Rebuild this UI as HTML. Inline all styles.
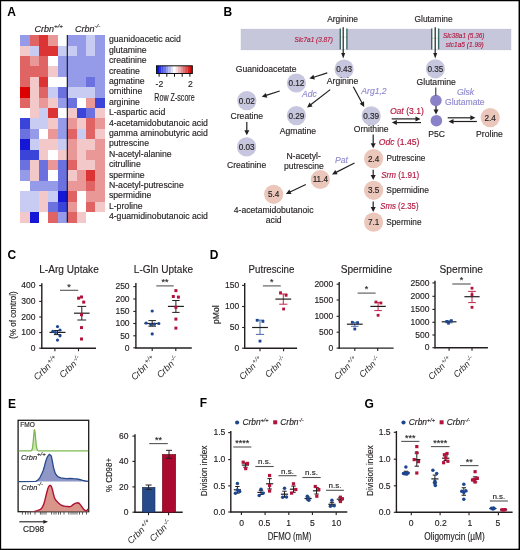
<!DOCTYPE html>
<html><head><meta charset="utf-8"><style>
html,body{margin:0;padding:0;background:#fff;}
body{width:520px;height:550px;overflow:hidden;font-family:"Liberation Sans", sans-serif;}
svg{display:block;}
#wrap{will-change:transform;width:520px;height:550px;background:#fff;}
</style></head><body><div id="wrap">
<svg width="520" height="550" viewBox="0 0 520 550" font-family='"Liberation Sans", sans-serif'>
<rect x="0" y="0" width="520" height="550" fill="#000"/>
<rect x="1.15" y="1.25" width="517.4" height="547.45" fill="#fff"/>
<text x="7.3" y="15.8" font-size="12" text-anchor="start" fill="#000" font-weight="bold">A</text>
<g shape-rendering="crispEdges">
<rect x="20.10" y="35.10" width="9.71" height="10.70" fill="#959be9"/>
<rect x="29.51" y="35.10" width="9.71" height="10.70" fill="#e06464"/>
<rect x="38.92" y="35.10" width="9.71" height="10.70" fill="#dc3434"/>
<rect x="48.33" y="35.10" width="9.71" height="10.70" fill="#e99797"/>
<rect x="57.74" y="35.10" width="9.71" height="10.70" fill="#ffffff"/>
<rect x="67.15" y="35.10" width="9.71" height="10.70" fill="#959be9"/>
<rect x="76.56" y="35.10" width="9.71" height="10.70" fill="#959be9"/>
<rect x="85.97" y="35.10" width="9.71" height="10.70" fill="#c9ccf2"/>
<rect x="95.38" y="35.10" width="9.71" height="10.70" fill="#959be9"/>
<rect x="20.10" y="45.50" width="9.71" height="10.70" fill="#f2c8c8"/>
<rect x="29.51" y="45.50" width="9.71" height="10.70" fill="#c9ccf2"/>
<rect x="38.92" y="45.50" width="9.71" height="10.70" fill="#dc3434"/>
<rect x="48.33" y="45.50" width="9.71" height="10.70" fill="#dc3434"/>
<rect x="57.74" y="45.50" width="9.71" height="10.70" fill="#c9ccf2"/>
<rect x="67.15" y="45.50" width="9.71" height="10.70" fill="#c9ccf2"/>
<rect x="76.56" y="45.50" width="9.71" height="10.70" fill="#959be9"/>
<rect x="85.97" y="45.50" width="9.71" height="10.70" fill="#c9ccf2"/>
<rect x="95.38" y="45.50" width="9.71" height="10.70" fill="#959be9"/>
<rect x="20.10" y="55.90" width="9.71" height="10.70" fill="#e06464"/>
<rect x="29.51" y="55.90" width="9.71" height="10.70" fill="#e99797"/>
<rect x="38.92" y="55.90" width="9.71" height="10.70" fill="#e06464"/>
<rect x="48.33" y="55.90" width="9.71" height="10.70" fill="#ffffff"/>
<rect x="57.74" y="55.90" width="9.71" height="10.70" fill="#959be9"/>
<rect x="67.15" y="55.90" width="9.71" height="10.70" fill="#959be9"/>
<rect x="76.56" y="55.90" width="9.71" height="10.70" fill="#959be9"/>
<rect x="85.97" y="55.90" width="9.71" height="10.70" fill="#959be9"/>
<rect x="95.38" y="55.90" width="9.71" height="10.70" fill="#959be9"/>
<rect x="20.10" y="66.30" width="9.71" height="10.70" fill="#e06464"/>
<rect x="29.51" y="66.30" width="9.71" height="10.70" fill="#e06464"/>
<rect x="38.92" y="66.30" width="9.71" height="10.70" fill="#e06464"/>
<rect x="48.33" y="66.30" width="9.71" height="10.70" fill="#f2c8c8"/>
<rect x="57.74" y="66.30" width="9.71" height="10.70" fill="#959be9"/>
<rect x="67.15" y="66.30" width="9.71" height="10.70" fill="#959be9"/>
<rect x="76.56" y="66.30" width="9.71" height="10.70" fill="#959be9"/>
<rect x="85.97" y="66.30" width="9.71" height="10.70" fill="#959be9"/>
<rect x="95.38" y="66.30" width="9.71" height="10.70" fill="#959be9"/>
<rect x="20.10" y="76.70" width="9.71" height="10.70" fill="#e06464"/>
<rect x="29.51" y="76.70" width="9.71" height="10.70" fill="#f2c8c8"/>
<rect x="38.92" y="76.70" width="9.71" height="10.70" fill="#dc3434"/>
<rect x="48.33" y="76.70" width="9.71" height="10.70" fill="#ffffff"/>
<rect x="57.74" y="76.70" width="9.71" height="10.70" fill="#ffffff"/>
<rect x="67.15" y="76.70" width="9.71" height="10.70" fill="#959be9"/>
<rect x="76.56" y="76.70" width="9.71" height="10.70" fill="#959be9"/>
<rect x="85.97" y="76.70" width="9.71" height="10.70" fill="#6b72e0"/>
<rect x="95.38" y="76.70" width="9.71" height="10.70" fill="#959be9"/>
<rect x="20.10" y="87.10" width="9.71" height="10.70" fill="#dc0000"/>
<rect x="29.51" y="87.10" width="9.71" height="10.70" fill="#f2c8c8"/>
<rect x="38.92" y="87.10" width="9.71" height="10.70" fill="#e06464"/>
<rect x="48.33" y="87.10" width="9.71" height="10.70" fill="#c9ccf2"/>
<rect x="57.74" y="87.10" width="9.71" height="10.70" fill="#6b72e0"/>
<rect x="67.15" y="87.10" width="9.71" height="10.70" fill="#c9ccf2"/>
<rect x="76.56" y="87.10" width="9.71" height="10.70" fill="#c9ccf2"/>
<rect x="85.97" y="87.10" width="9.71" height="10.70" fill="#c9ccf2"/>
<rect x="95.38" y="87.10" width="9.71" height="10.70" fill="#959be9"/>
<rect x="20.10" y="97.50" width="9.71" height="10.70" fill="#e06464"/>
<rect x="29.51" y="97.50" width="9.71" height="10.70" fill="#f2c8c8"/>
<rect x="38.92" y="97.50" width="9.71" height="10.70" fill="#e99797"/>
<rect x="48.33" y="97.50" width="9.71" height="10.70" fill="#f2c8c8"/>
<rect x="57.74" y="97.50" width="9.71" height="10.70" fill="#959be9"/>
<rect x="67.15" y="97.50" width="9.71" height="10.70" fill="#6b72e0"/>
<rect x="76.56" y="97.50" width="9.71" height="10.70" fill="#ffffff"/>
<rect x="85.97" y="97.50" width="9.71" height="10.70" fill="#e99797"/>
<rect x="95.38" y="97.50" width="9.71" height="10.70" fill="#3a44d8"/>
<rect x="20.10" y="107.90" width="9.71" height="10.70" fill="#ffffff"/>
<rect x="29.51" y="107.90" width="9.71" height="10.70" fill="#f2c8c8"/>
<rect x="38.92" y="107.90" width="9.71" height="10.70" fill="#c9ccf2"/>
<rect x="48.33" y="107.90" width="9.71" height="10.70" fill="#dc3434"/>
<rect x="57.74" y="107.90" width="9.71" height="10.70" fill="#ffffff"/>
<rect x="67.15" y="107.90" width="9.71" height="10.70" fill="#f2c8c8"/>
<rect x="76.56" y="107.90" width="9.71" height="10.70" fill="#3a44d8"/>
<rect x="85.97" y="107.90" width="9.71" height="10.70" fill="#6b72e0"/>
<rect x="95.38" y="107.90" width="9.71" height="10.70" fill="#f2c8c8"/>
<rect x="20.10" y="118.30" width="9.71" height="10.70" fill="#3a44d8"/>
<rect x="29.51" y="118.30" width="9.71" height="10.70" fill="#c9ccf2"/>
<rect x="38.92" y="118.30" width="9.71" height="10.70" fill="#c9ccf2"/>
<rect x="48.33" y="118.30" width="9.71" height="10.70" fill="#f2c8c8"/>
<rect x="57.74" y="118.30" width="9.71" height="10.70" fill="#959be9"/>
<rect x="67.15" y="118.30" width="9.71" height="10.70" fill="#e99797"/>
<rect x="76.56" y="118.30" width="9.71" height="10.70" fill="#f2c8c8"/>
<rect x="85.97" y="118.30" width="9.71" height="10.70" fill="#e06464"/>
<rect x="95.38" y="118.30" width="9.71" height="10.70" fill="#e99797"/>
<rect x="20.10" y="128.70" width="9.71" height="10.70" fill="#6b72e0"/>
<rect x="29.51" y="128.70" width="9.71" height="10.70" fill="#959be9"/>
<rect x="38.92" y="128.70" width="9.71" height="10.70" fill="#ffffff"/>
<rect x="48.33" y="128.70" width="9.71" height="10.70" fill="#e99797"/>
<rect x="57.74" y="128.70" width="9.71" height="10.70" fill="#959be9"/>
<rect x="67.15" y="128.70" width="9.71" height="10.70" fill="#e06464"/>
<rect x="76.56" y="128.70" width="9.71" height="10.70" fill="#c9ccf2"/>
<rect x="85.97" y="128.70" width="9.71" height="10.70" fill="#e06464"/>
<rect x="95.38" y="128.70" width="9.71" height="10.70" fill="#f2c8c8"/>
<rect x="20.10" y="139.10" width="9.71" height="10.70" fill="#1616d6"/>
<rect x="29.51" y="139.10" width="9.71" height="10.70" fill="#c9ccf2"/>
<rect x="38.92" y="139.10" width="9.71" height="10.70" fill="#f2c8c8"/>
<rect x="48.33" y="139.10" width="9.71" height="10.70" fill="#f2c8c8"/>
<rect x="57.74" y="139.10" width="9.71" height="10.70" fill="#c9ccf2"/>
<rect x="67.15" y="139.10" width="9.71" height="10.70" fill="#e99797"/>
<rect x="76.56" y="139.10" width="9.71" height="10.70" fill="#f2c8c8"/>
<rect x="85.97" y="139.10" width="9.71" height="10.70" fill="#f2c8c8"/>
<rect x="95.38" y="139.10" width="9.71" height="10.70" fill="#e99797"/>
<rect x="20.10" y="149.50" width="9.71" height="10.70" fill="#3a44d8"/>
<rect x="29.51" y="149.50" width="9.71" height="10.70" fill="#3a44d8"/>
<rect x="38.92" y="149.50" width="9.71" height="10.70" fill="#f2c8c8"/>
<rect x="48.33" y="149.50" width="9.71" height="10.70" fill="#ffffff"/>
<rect x="57.74" y="149.50" width="9.71" height="10.70" fill="#f2c8c8"/>
<rect x="67.15" y="149.50" width="9.71" height="10.70" fill="#e99797"/>
<rect x="76.56" y="149.50" width="9.71" height="10.70" fill="#f2c8c8"/>
<rect x="85.97" y="149.50" width="9.71" height="10.70" fill="#e99797"/>
<rect x="95.38" y="149.50" width="9.71" height="10.70" fill="#e99797"/>
<rect x="20.10" y="159.90" width="9.71" height="10.70" fill="#6b72e0"/>
<rect x="29.51" y="159.90" width="9.71" height="10.70" fill="#f2c8c8"/>
<rect x="38.92" y="159.90" width="9.71" height="10.70" fill="#6b72e0"/>
<rect x="48.33" y="159.90" width="9.71" height="10.70" fill="#e99797"/>
<rect x="57.74" y="159.90" width="9.71" height="10.70" fill="#6b72e0"/>
<rect x="67.15" y="159.90" width="9.71" height="10.70" fill="#e06464"/>
<rect x="76.56" y="159.90" width="9.71" height="10.70" fill="#f2c8c8"/>
<rect x="85.97" y="159.90" width="9.71" height="10.70" fill="#f2c8c8"/>
<rect x="95.38" y="159.90" width="9.71" height="10.70" fill="#e99797"/>
<rect x="20.10" y="170.30" width="9.71" height="10.70" fill="#959be9"/>
<rect x="29.51" y="170.30" width="9.71" height="10.70" fill="#f2c8c8"/>
<rect x="38.92" y="170.30" width="9.71" height="10.70" fill="#6b72e0"/>
<rect x="48.33" y="170.30" width="9.71" height="10.70" fill="#ffffff"/>
<rect x="57.74" y="170.30" width="9.71" height="10.70" fill="#6b72e0"/>
<rect x="67.15" y="170.30" width="9.71" height="10.70" fill="#f2c8c8"/>
<rect x="76.56" y="170.30" width="9.71" height="10.70" fill="#e99797"/>
<rect x="85.97" y="170.30" width="9.71" height="10.70" fill="#dc3434"/>
<rect x="95.38" y="170.30" width="9.71" height="10.70" fill="#e99797"/>
<rect x="20.10" y="180.70" width="9.71" height="10.70" fill="#ffffff"/>
<rect x="29.51" y="180.70" width="9.71" height="10.70" fill="#959be9"/>
<rect x="38.92" y="180.70" width="9.71" height="10.70" fill="#959be9"/>
<rect x="48.33" y="180.70" width="9.71" height="10.70" fill="#959be9"/>
<rect x="57.74" y="180.70" width="9.71" height="10.70" fill="#6b72e0"/>
<rect x="67.15" y="180.70" width="9.71" height="10.70" fill="#e99797"/>
<rect x="76.56" y="180.70" width="9.71" height="10.70" fill="#e99797"/>
<rect x="85.97" y="180.70" width="9.71" height="10.70" fill="#e06464"/>
<rect x="95.38" y="180.70" width="9.71" height="10.70" fill="#e99797"/>
<rect x="20.10" y="191.10" width="9.71" height="10.70" fill="#c9ccf2"/>
<rect x="29.51" y="191.10" width="9.71" height="10.70" fill="#c9ccf2"/>
<rect x="38.92" y="191.10" width="9.71" height="10.70" fill="#f2c8c8"/>
<rect x="48.33" y="191.10" width="9.71" height="10.70" fill="#c9ccf2"/>
<rect x="57.74" y="191.10" width="9.71" height="10.70" fill="#1616d6"/>
<rect x="67.15" y="191.10" width="9.71" height="10.70" fill="#e06464"/>
<rect x="76.56" y="191.10" width="9.71" height="10.70" fill="#ffffff"/>
<rect x="85.97" y="191.10" width="9.71" height="10.70" fill="#e99797"/>
<rect x="95.38" y="191.10" width="9.71" height="10.70" fill="#e99797"/>
<rect x="20.10" y="201.50" width="9.71" height="10.70" fill="#c9ccf2"/>
<rect x="29.51" y="201.50" width="9.71" height="10.70" fill="#c9ccf2"/>
<rect x="38.92" y="201.50" width="9.71" height="10.70" fill="#f2c8c8"/>
<rect x="48.33" y="201.50" width="9.71" height="10.70" fill="#6b72e0"/>
<rect x="57.74" y="201.50" width="9.71" height="10.70" fill="#3a44d8"/>
<rect x="67.15" y="201.50" width="9.71" height="10.70" fill="#e99797"/>
<rect x="76.56" y="201.50" width="9.71" height="10.70" fill="#ffffff"/>
<rect x="85.97" y="201.50" width="9.71" height="10.70" fill="#e06464"/>
<rect x="95.38" y="201.50" width="9.71" height="10.70" fill="#f2c8c8"/>
<rect x="20.10" y="211.90" width="9.71" height="10.70" fill="#f2c8c8"/>
<rect x="29.51" y="211.90" width="9.71" height="10.70" fill="#1616d6"/>
<rect x="38.92" y="211.90" width="9.71" height="10.70" fill="#ffffff"/>
<rect x="48.33" y="211.90" width="9.71" height="10.70" fill="#e06464"/>
<rect x="57.74" y="211.90" width="9.71" height="10.70" fill="#959be9"/>
<rect x="67.15" y="211.90" width="9.71" height="10.70" fill="#e06464"/>
<rect x="76.56" y="211.90" width="9.71" height="10.70" fill="#f2c8c8"/>
<rect x="85.97" y="211.90" width="9.71" height="10.70" fill="#ffffff"/>
<rect x="95.38" y="211.90" width="9.71" height="10.70" fill="#ffffff"/>
</g>
<line x1="67.3" y1="35.1" x2="67.3" y2="222.3" stroke="#111" stroke-width="1.1"/>
<text x="34.5" y="32.2" font-size="9" font-style="italic" fill="#231f20" stroke="#231f20" stroke-width="0.15">Crbn<tspan font-size="6.2" dy="-3.8">+/+</tspan></text>
<text x="74.9" y="32.2" font-size="9" font-style="italic" fill="#231f20" stroke="#231f20" stroke-width="0.15">Crbn<tspan font-size="6.2" dy="-3.8">-/-</tspan></text>
<text x="108.9" y="42.3" font-size="8.7" text-anchor="start" fill="#231f20" stroke="#231f20" stroke-width="0.15">guanidoacetic acid</text>
<text x="108.9" y="52.7" font-size="8.7" text-anchor="start" fill="#231f20" stroke="#231f20" stroke-width="0.15">glutamine</text>
<text x="108.9" y="63.1" font-size="8.7" text-anchor="start" fill="#231f20" stroke="#231f20" stroke-width="0.15">creatinine</text>
<text x="108.9" y="73.5" font-size="8.7" text-anchor="start" fill="#231f20" stroke="#231f20" stroke-width="0.15">creatine</text>
<text x="108.9" y="83.9" font-size="8.7" text-anchor="start" fill="#231f20" stroke="#231f20" stroke-width="0.15">agmatine</text>
<text x="108.9" y="94.3" font-size="8.7" text-anchor="start" fill="#231f20" stroke="#231f20" stroke-width="0.15">ornithine</text>
<text x="108.9" y="104.7" font-size="8.7" text-anchor="start" fill="#231f20" stroke="#231f20" stroke-width="0.15">arginine</text>
<text x="108.9" y="115.1" font-size="8.7" text-anchor="start" fill="#231f20" stroke="#231f20" stroke-width="0.15">L-aspartic acid</text>
<text x="108.9" y="125.5" font-size="8.7" text-anchor="start" fill="#231f20" stroke="#231f20" stroke-width="0.15">4-acetamidobutanoic acid</text>
<text x="108.9" y="135.9" font-size="8.7" text-anchor="start" fill="#231f20" stroke="#231f20" stroke-width="0.15">gamma aminobutyric acid</text>
<text x="108.9" y="146.3" font-size="8.7" text-anchor="start" fill="#231f20" stroke="#231f20" stroke-width="0.15">putrescine</text>
<text x="108.9" y="156.7" font-size="8.7" text-anchor="start" fill="#231f20" stroke="#231f20" stroke-width="0.15">N-acetyl-alanine</text>
<text x="108.9" y="167.1" font-size="8.7" text-anchor="start" fill="#231f20" stroke="#231f20" stroke-width="0.15">citrulline</text>
<text x="108.9" y="177.5" font-size="8.7" text-anchor="start" fill="#231f20" stroke="#231f20" stroke-width="0.15">spermine</text>
<text x="108.9" y="187.9" font-size="8.7" text-anchor="start" fill="#231f20" stroke="#231f20" stroke-width="0.15">N-acetyl-putrescine</text>
<text x="108.9" y="198.3" font-size="8.7" text-anchor="start" fill="#231f20" stroke="#231f20" stroke-width="0.15">spermidine</text>
<text x="108.9" y="208.7" font-size="8.7" text-anchor="start" fill="#231f20" stroke="#231f20" stroke-width="0.15">L-proline</text>
<text x="108.9" y="219.1" font-size="8.7" text-anchor="start" fill="#231f20" stroke="#231f20" stroke-width="0.15">4-guamidinobutanoic acid</text>
<rect x="156.50" y="65.8" width="2.59" height="7.700000000000003" fill="#0a14d8"/>
<rect x="158.89" y="65.8" width="2.59" height="7.700000000000003" fill="#2a36dc"/>
<rect x="161.27" y="65.8" width="2.59" height="7.700000000000003" fill="#4a56e0"/>
<rect x="163.66" y="65.8" width="2.59" height="7.700000000000003" fill="#6d78e6"/>
<rect x="166.05" y="65.8" width="2.59" height="7.700000000000003" fill="#9199ec"/>
<rect x="168.43" y="65.8" width="2.59" height="7.700000000000003" fill="#b7bcf2"/>
<rect x="170.82" y="65.8" width="2.59" height="7.700000000000003" fill="#dcdff8"/>
<rect x="173.21" y="65.8" width="2.59" height="7.700000000000003" fill="#ffffff"/>
<rect x="175.59" y="65.8" width="2.59" height="7.700000000000003" fill="#f8dcdc"/>
<rect x="177.98" y="65.8" width="2.59" height="7.700000000000003" fill="#f0b8b8"/>
<rect x="180.37" y="65.8" width="2.59" height="7.700000000000003" fill="#e89494"/>
<rect x="182.75" y="65.8" width="2.59" height="7.700000000000003" fill="#e06f6f"/>
<rect x="185.14" y="65.8" width="2.59" height="7.700000000000003" fill="#d84a4a"/>
<rect x="187.53" y="65.8" width="2.59" height="7.700000000000003" fill="#d42626"/>
<rect x="189.91" y="65.8" width="2.59" height="7.700000000000003" fill="#d20606"/>
<rect x="156.5" y="65.8" width="35.80000000000001" height="7.700000000000003" fill="none" stroke="#111" stroke-width="1"/>
<line x1="159.1" y1="73.5" x2="159.1" y2="76.7" stroke="#111" stroke-width="1"/>
<line x1="166.8" y1="73.5" x2="166.8" y2="76.7" stroke="#111" stroke-width="1"/>
<line x1="174.5" y1="73.5" x2="174.5" y2="76.7" stroke="#111" stroke-width="1"/>
<line x1="182.2" y1="73.5" x2="182.2" y2="76.7" stroke="#111" stroke-width="1"/>
<line x1="189.9" y1="73.5" x2="189.9" y2="76.7" stroke="#111" stroke-width="1"/>
<text x="155.6" y="86.9" font-size="8.6" text-anchor="start" fill="#231f20" stroke="#231f20" stroke-width="0.15">-2</text>
<text x="187.9" y="86.9" font-size="8.6" text-anchor="start" fill="#231f20" stroke="#231f20" stroke-width="0.15">2</text>
<text x="154.3" y="100.7" font-size="10.2" text-anchor="start" fill="#231f20" textLength="40.4" lengthAdjust="spacingAndGlyphs" stroke="#231f20" stroke-width="0.15">Row Z-score</text>
<text x="223.5" y="15.9" font-size="12" text-anchor="start" fill="#000" font-weight="bold">B</text>
<rect x="241.2" y="29.3" width="269.6" height="20.4" fill="#c6c7da" stroke="#bdbed3" stroke-width="0.8"/>
<rect x="340.3" y="28.6" width="6.599999999999966" height="20.8" fill="#fff"/>
<line x1="340.3" y1="37.2" x2="346.9" y2="37.2" stroke="#b8d89a" stroke-width="0.6"/>
<line x1="340.3" y1="28.4" x2="340.3" y2="49.4" stroke="#3a6b68" stroke-width="1.4"/>
<line x1="346.9" y1="28.4" x2="346.9" y2="49.4" stroke="#3a6b68" stroke-width="1.4"/>
<rect x="431.7" y="28.6" width="6.900000000000034" height="20.8" fill="#fff"/>
<line x1="431.7" y1="38.2" x2="438.6" y2="38.2" stroke="#b8d89a" stroke-width="0.6"/>
<line x1="431.7" y1="28.4" x2="431.7" y2="49.4" stroke="#3a6b68" stroke-width="1.4"/>
<line x1="438.6" y1="28.4" x2="438.6" y2="49.4" stroke="#3a6b68" stroke-width="1.4"/>
<text x="342.6" y="21.6" font-size="8.4" text-anchor="middle" fill="#231f20" stroke="#231f20" stroke-width="0.15">Arginine</text>
<text x="433.6" y="22.2" font-size="8.4" text-anchor="middle" fill="#231f20" stroke="#231f20" stroke-width="0.15">Glutamine</text>
<line x1="343.2" y1="27.2" x2="343.20" y2="53.50" stroke="#231f20" stroke-width="1.2"/>
<polygon points="343.20,58.60 341.20,53.00 345.20,53.00" fill="#231f20"/>
<line x1="435.2" y1="27.2" x2="435.20" y2="53.50" stroke="#231f20" stroke-width="1.2"/>
<polygon points="435.20,58.60 433.20,53.00 437.20,53.00" fill="#231f20"/>
<text x="294.6" y="42" font-size="7.8" font-style="italic" fill="#b3163e" textLength="38.2" lengthAdjust="spacingAndGlyphs" stroke="#b3163e" stroke-width="0.15">Slc7a1 (3.87)</text>
<text x="442.9" y="37.9" font-size="7.8" font-style="italic" fill="#b3163e" textLength="41.5" lengthAdjust="spacingAndGlyphs" stroke="#b3163e" stroke-width="0.15">Slc38a1 (5.36)</text>
<text x="445.8" y="46.5" font-size="7.8" font-style="italic" fill="#b3163e" textLength="38" lengthAdjust="spacingAndGlyphs" stroke="#b3163e" stroke-width="0.15">stc1a5 (1.99)</text>
<circle cx="344.1" cy="69" r="9.6" fill="#c6c7de"/>
<text x="344.1" y="71.9" font-size="8.2" text-anchor="middle" fill="#231f20" stroke="#231f20" stroke-width="0.15">0.43</text>
<circle cx="296.4" cy="83" r="9.6" fill="#c6c7de"/>
<text x="296.4" y="85.9" font-size="8.2" text-anchor="middle" fill="#231f20" stroke="#231f20" stroke-width="0.15">0.12</text>
<circle cx="246.8" cy="100.6" r="9.6" fill="#c6c7de"/>
<text x="246.8" y="103.5" font-size="8.2" text-anchor="middle" fill="#231f20" stroke="#231f20" stroke-width="0.15">0.02</text>
<circle cx="296.4" cy="115.6" r="9.6" fill="#c6c7de"/>
<text x="296.4" y="118.5" font-size="8.2" text-anchor="middle" fill="#231f20" stroke="#231f20" stroke-width="0.15">0.29</text>
<circle cx="246.6" cy="146.9" r="9.6" fill="#c6c7de"/>
<text x="246.6" y="149.8" font-size="8.2" text-anchor="middle" fill="#231f20" stroke="#231f20" stroke-width="0.15">0.03</text>
<circle cx="371.2" cy="115.9" r="9.6" fill="#c6c7de"/>
<text x="371.2" y="118.80000000000001" font-size="8.2" text-anchor="middle" fill="#231f20" stroke="#231f20" stroke-width="0.15">0.39</text>
<circle cx="435.4" cy="68.8" r="9.6" fill="#c6c7de"/>
<text x="435.4" y="71.7" font-size="8.2" text-anchor="middle" fill="#231f20" stroke="#231f20" stroke-width="0.15">0.35</text>
<circle cx="490.2" cy="117.6" r="9.6" fill="#ebc7bb"/>
<text x="490.2" y="120.5" font-size="8.2" text-anchor="middle" fill="#231f20" stroke="#231f20" stroke-width="0.15">2.4</text>
<circle cx="373.6" cy="158.6" r="9.6" fill="#ebc7bb"/>
<text x="373.6" y="161.5" font-size="8.2" text-anchor="middle" fill="#231f20" stroke="#231f20" stroke-width="0.15">2.4</text>
<circle cx="320.3" cy="179.5" r="9.6" fill="#ebc7bb"/>
<text x="320.3" y="182.4" font-size="8.2" text-anchor="middle" fill="#231f20" stroke="#231f20" stroke-width="0.15">11.4</text>
<circle cx="273.7" cy="194.3" r="9.6" fill="#ebc7bb"/>
<text x="273.7" y="197.20000000000002" font-size="8.2" text-anchor="middle" fill="#231f20" stroke="#231f20" stroke-width="0.15">5.4</text>
<circle cx="373.6" cy="190.3" r="9.6" fill="#ebc7bb"/>
<text x="373.6" y="193.20000000000002" font-size="8.2" text-anchor="middle" fill="#231f20" stroke="#231f20" stroke-width="0.15">3.5</text>
<circle cx="373.6" cy="222.1" r="9.6" fill="#ebc7bb"/>
<text x="373.6" y="225.0" font-size="8.2" text-anchor="middle" fill="#231f20" stroke="#231f20" stroke-width="0.15">7.1</text>
<circle cx="435.9" cy="100.5" r="5.8" fill="#8a82c8"/>
<circle cx="436.4" cy="120.7" r="5.8" fill="#8a82c8"/>
<text x="266.2" y="72.2" font-size="8.6" text-anchor="middle" fill="#231f20" stroke="#231f20" stroke-width="0.15">Guanidoacetate</text>
<text x="342.6" y="83.5" font-size="8.6" text-anchor="middle" fill="#231f20" stroke="#231f20" stroke-width="0.15">Arginine</text>
<text x="302" y="97.2" font-size="8.6" text-anchor="start" fill="#8f8ad0" font-style="italic" stroke="#8f8ad0" stroke-width="0.15">Adc</text>
<text x="246.8" y="118.6" font-size="8.6" text-anchor="middle" fill="#231f20" stroke="#231f20" stroke-width="0.15">Creatine</text>
<text x="297.9" y="134.2" font-size="8.6" text-anchor="middle" fill="#231f20" stroke="#231f20" stroke-width="0.15">Agmatine</text>
<text x="246.6" y="167.6" font-size="8.6" text-anchor="middle" fill="#231f20" stroke="#231f20" stroke-width="0.15">Creatinine</text>
<text x="371.2" y="131.6" font-size="8.6" text-anchor="middle" fill="#231f20" stroke="#231f20" stroke-width="0.15">Ornithine</text>
<text x="361.3" y="94" font-size="8.6" text-anchor="start" fill="#8f8ad0" font-style="italic" stroke="#8f8ad0" stroke-width="0.15">Arg1,2</text>
<text x="389.9" y="113.8" font-size="8.6" fill="#b3163e" stroke="#b3163e" stroke-width="0.15"><tspan font-style="italic">Oat</tspan> (3.1)</text>
<text x="436.2" y="84.6" font-size="8.6" text-anchor="middle" fill="#231f20" stroke="#231f20" stroke-width="0.15">Glutamine</text>
<text x="456.9" y="94.5" font-size="8.6" text-anchor="start" fill="#8f8ad0" font-style="italic" stroke="#8f8ad0" stroke-width="0.15">Glsk</text>
<text x="445" y="104.7" font-size="8.6" text-anchor="start" fill="#8f8ad0" stroke="#8f8ad0" stroke-width="0.15">Glutamate</text>
<text x="436.6" y="137" font-size="8.6" text-anchor="middle" fill="#231f20" stroke="#231f20" stroke-width="0.15">P5C</text>
<text x="489.5" y="137" font-size="8.6" text-anchor="middle" fill="#231f20" stroke="#231f20" stroke-width="0.15">Proline</text>
<text x="378.8" y="144.5" font-size="8.6" fill="#b3163e" stroke="#b3163e" stroke-width="0.15"><tspan font-style="italic">Odc</tspan> (1.45)</text>
<text x="386.5" y="161.2" font-size="8.6" text-anchor="start" fill="#231f20" textLength="38.9" lengthAdjust="spacingAndGlyphs" stroke="#231f20" stroke-width="0.15">Putrescine</text>
<text x="335" y="162.5" font-size="8.6" text-anchor="start" fill="#8f8ad0" font-style="italic" stroke="#8f8ad0" stroke-width="0.15">Pat</text>
<text x="303.6" y="158.8" font-size="8.6" text-anchor="middle" fill="#231f20" stroke="#231f20" stroke-width="0.15">N-acetyl-</text>
<text x="303.9" y="169.4" font-size="8.6" text-anchor="middle" fill="#231f20" stroke="#231f20" stroke-width="0.15">putrescine</text>
<text x="273.7" y="212.5" font-size="8.6" text-anchor="middle" fill="#231f20" stroke="#231f20" stroke-width="0.15">4-acetamidobutanoic</text>
<text x="273.7" y="223" font-size="8.6" text-anchor="middle" fill="#231f20" stroke="#231f20" stroke-width="0.15">acid</text>
<text x="381.2" y="177.6" font-size="8.6" fill="#b3163e" textLength="38" lengthAdjust="spacingAndGlyphs" stroke="#b3163e" stroke-width="0.15"><tspan font-style="italic">Srm</tspan> (1.91)</text>
<text x="386.3" y="192.5" font-size="8.6" text-anchor="start" fill="#231f20" textLength="42.6" lengthAdjust="spacingAndGlyphs" stroke="#231f20" stroke-width="0.15">Spermidine</text>
<text x="380.2" y="209.3" font-size="8.6" fill="#b3163e" textLength="38.3" lengthAdjust="spacingAndGlyphs" stroke="#b3163e" stroke-width="0.15"><tspan font-style="italic">Sms</tspan> (2.35)</text>
<text x="386.3" y="224.5" font-size="8.6" text-anchor="start" fill="#231f20" textLength="35.2" lengthAdjust="spacingAndGlyphs" stroke="#231f20" stroke-width="0.15">Spermine</text>
<line x1="327.3" y1="72.9" x2="313.69" y2="77.23" stroke="#231f20" stroke-width="1.2"/>
<polygon points="309.40,78.60 313.41,74.70 314.92,79.47" fill="#231f20"/>
<line x1="279.7" y1="91" x2="266.08" y2="95.41" stroke="#231f20" stroke-width="1.2"/>
<polygon points="261.80,96.80 265.79,92.88 267.33,97.64" fill="#231f20"/>
<line x1="246.8" y1="121.9" x2="246.80" y2="130.70" stroke="#231f20" stroke-width="1.2"/>
<polygon points="246.80,135.20 244.30,130.20 249.30,130.20" fill="#231f20"/>
<line x1="330.2" y1="89.6" x2="310.66" y2="104.74" stroke="#231f20" stroke-width="1.2"/>
<polygon points="307.10,107.50 309.52,102.46 312.58,106.41" fill="#231f20"/>
<line x1="353.3" y1="86.7" x2="362.06" y2="102.94" stroke="#231f20" stroke-width="1.2"/>
<polygon points="364.20,106.90 359.63,103.69 364.03,101.31" fill="#231f20"/>
<line x1="435.8" y1="87.5" x2="435.8" y2="95.5" stroke="#231f20" stroke-width="1"/>
<line x1="436" y1="106" x2="436.00" y2="110.10" stroke="#231f20" stroke-width="1.2"/>
<polygon points="436.00,114.60 433.50,109.60 438.50,109.60" fill="#231f20"/>
<line x1="391.7" y1="118.9" x2="416.00" y2="118.90" stroke="#231f20" stroke-width="1.2"/>
<polygon points="420.50,118.90 415.50,121.40 415.50,116.40" fill="#231f20"/>
<line x1="421" y1="122.6" x2="396.40" y2="122.60" stroke="#231f20" stroke-width="1.2"/>
<polygon points="391.90,122.60 396.90,120.10 396.90,125.10" fill="#231f20"/>
<line x1="447.7" y1="117.8" x2="470.90" y2="117.80" stroke="#231f20" stroke-width="1.2"/>
<polygon points="475.40,117.80 470.40,120.30 470.40,115.30" fill="#231f20"/>
<line x1="476.9" y1="121.5" x2="453.00" y2="121.50" stroke="#231f20" stroke-width="1.2"/>
<polygon points="448.50,121.50 453.50,119.00 453.50,124.00" fill="#231f20"/>
<line x1="373.2" y1="134.5" x2="373.20" y2="143.80" stroke="#231f20" stroke-width="1.2"/>
<polygon points="373.20,148.30 370.70,143.30 375.70,143.30" fill="#231f20"/>
<line x1="354.5" y1="163" x2="336.01" y2="172.37" stroke="#231f20" stroke-width="1.2"/>
<polygon points="332.00,174.40 335.33,169.91 337.59,174.37" fill="#231f20"/>
<line x1="305.8" y1="184.5" x2="289.96" y2="192.06" stroke="#231f20" stroke-width="1.2"/>
<polygon points="285.90,194.00 289.34,189.59 291.49,194.10" fill="#231f20"/>
<line x1="373.2" y1="169.8" x2="373.20" y2="175.50" stroke="#231f20" stroke-width="1.2"/>
<polygon points="373.20,180.00 370.70,175.00 375.70,175.00" fill="#231f20"/>
<line x1="373.2" y1="201.5" x2="373.20" y2="207.50" stroke="#231f20" stroke-width="1.2"/>
<polygon points="373.20,212.00 370.70,207.00 375.70,207.00" fill="#231f20"/>
<text x="7.5" y="258.5" font-size="12" text-anchor="start" fill="#000" font-weight="bold">C</text>
<text x="39.2" y="273.3" font-size="10.6" text-anchor="start" fill="#231f20" textLength="59.6" lengthAdjust="spacingAndGlyphs" stroke="#231f20" stroke-width="0.15">L-Arg Uptake</text>
<line x1="41.8" y1="283.3" x2="41.8" y2="348.8" stroke="#231f20" stroke-width="1.4"/>
<line x1="39.199999999999996" y1="285.6" x2="41.8" y2="285.6" stroke="#231f20" stroke-width="1.1"/>
<text x="35.5" y="288.3" font-size="8.5" text-anchor="end" fill="#231f20" stroke="#231f20" stroke-width="0.15">400</text>
<line x1="39.199999999999996" y1="301.4" x2="41.8" y2="301.4" stroke="#231f20" stroke-width="1.1"/>
<text x="35.5" y="304.09999999999997" font-size="8.5" text-anchor="end" fill="#231f20" stroke="#231f20" stroke-width="0.15">300</text>
<line x1="39.199999999999996" y1="317" x2="41.8" y2="317" stroke="#231f20" stroke-width="1.1"/>
<text x="35.5" y="319.7" font-size="8.5" text-anchor="end" fill="#231f20" stroke="#231f20" stroke-width="0.15">200</text>
<line x1="39.199999999999996" y1="332.6" x2="41.8" y2="332.6" stroke="#231f20" stroke-width="1.1"/>
<text x="35.5" y="335.3" font-size="8.5" text-anchor="end" fill="#231f20" stroke="#231f20" stroke-width="0.15">100</text>
<line x1="39.199999999999996" y1="348.2" x2="41.8" y2="348.2" stroke="#231f20" stroke-width="1.1"/>
<text x="35.5" y="350.9" font-size="8.5" text-anchor="end" fill="#231f20" stroke="#231f20" stroke-width="0.15">0</text>
<line x1="41.199999999999996" y1="348.2" x2="96" y2="348.2" stroke="#231f20" stroke-width="1.4"/>
<line x1="54.9" y1="348.2" x2="54.9" y2="351.2" stroke="#231f20" stroke-width="1.1"/>
<line x1="78.5" y1="348.2" x2="78.5" y2="351.2" stroke="#231f20" stroke-width="1.1"/>
<text transform="translate(15.8,315) rotate(-90)" font-size="8.8" text-anchor="middle" fill="#231f20" textLength="47.3" lengthAdjust="spacingAndGlyphs" stroke="#231f20" stroke-width="0.15">(% of control)</text>
<line x1="60" y1="290.3" x2="78.2" y2="290.3" stroke="#555" stroke-width="1.1"/>
<text x="69.1" y="289.5" font-size="9" text-anchor="middle" fill="#231f20" stroke="#231f20" stroke-width="0.15">*</text>
<line x1="57.5" y1="330.5" x2="57.5" y2="334.6" stroke="#231f20" stroke-width="1"/>
<line x1="53.8" y1="330.5" x2="61.2" y2="330.5" stroke="#231f20" stroke-width="1"/>
<line x1="53.8" y1="334.6" x2="61.2" y2="334.6" stroke="#231f20" stroke-width="1"/>
<line x1="49.5" y1="332.4" x2="65.5" y2="332.4" stroke="#231f20" stroke-width="1.2"/>
<circle cx="57.5" cy="326.6" r="1.6" fill="#1d4691"/>
<circle cx="52.8" cy="331.3" r="1.6" fill="#1d4691"/>
<circle cx="60" cy="330" r="1.6" fill="#1d4691"/>
<circle cx="60" cy="335.8" r="1.6" fill="#1d4691"/>
<circle cx="57.5" cy="340.1" r="1.6" fill="#1d4691"/>
<circle cx="55.5" cy="332.5" r="1.6" fill="#1d4691"/>
<line x1="81.8" y1="306.4" x2="81.8" y2="320" stroke="#231f20" stroke-width="1"/>
<line x1="77.39999999999999" y1="306.4" x2="86.2" y2="306.4" stroke="#231f20" stroke-width="1"/>
<line x1="77.39999999999999" y1="320" x2="86.2" y2="320" stroke="#231f20" stroke-width="1"/>
<line x1="74.0" y1="313.2" x2="89.6" y2="313.2" stroke="#231f20" stroke-width="1.2"/>
<rect x="77.10" y="296.70" width="3.00" height="3.00" fill="#b3123b"/>
<rect x="80.00" y="295.50" width="3.00" height="3.00" fill="#b3123b"/>
<rect x="82.20" y="300.60" width="3.00" height="3.00" fill="#b3123b"/>
<rect x="80.00" y="313.20" width="3.00" height="3.00" fill="#b3123b"/>
<rect x="80.00" y="326.10" width="3.00" height="3.00" fill="#b3123b"/>
<rect x="80.00" y="337.50" width="3.00" height="3.00" fill="#b3123b"/>
<text transform="translate(58.4,359.8) rotate(-45)" font-size="9.2" font-style="italic" text-anchor="end" fill="#231f20">Crbn<tspan font-size="6.4" dx="0.6" dy="-3.3">+/+</tspan></text>
<text transform="translate(81.8,359.8) rotate(-45)" font-size="9.2" font-style="italic" text-anchor="end" fill="#231f20">Crbn<tspan font-size="6.4" dx="0.6" dy="-3.3">-/-</tspan></text>
<text x="133.8" y="273.4" font-size="10.6" text-anchor="start" fill="#231f20" textLength="59.3" lengthAdjust="spacingAndGlyphs" stroke="#231f20" stroke-width="0.15">L-Gln Uptake</text>
<line x1="135.9" y1="283" x2="135.9" y2="348.40000000000003" stroke="#231f20" stroke-width="1.4"/>
<line x1="133.3" y1="286.6" x2="135.9" y2="286.6" stroke="#231f20" stroke-width="1.1"/>
<text x="129.6" y="289.3" font-size="8.5" text-anchor="end" fill="#231f20" stroke="#231f20" stroke-width="0.15">250</text>
<line x1="133.3" y1="299" x2="135.9" y2="299" stroke="#231f20" stroke-width="1.1"/>
<text x="129.6" y="301.7" font-size="8.5" text-anchor="end" fill="#231f20" stroke="#231f20" stroke-width="0.15">200</text>
<line x1="133.3" y1="311.4" x2="135.9" y2="311.4" stroke="#231f20" stroke-width="1.1"/>
<text x="129.6" y="314.09999999999997" font-size="8.5" text-anchor="end" fill="#231f20" stroke="#231f20" stroke-width="0.15">150</text>
<line x1="133.3" y1="323.5" x2="135.9" y2="323.5" stroke="#231f20" stroke-width="1.1"/>
<text x="129.6" y="326.2" font-size="8.5" text-anchor="end" fill="#231f20" stroke="#231f20" stroke-width="0.15">100</text>
<line x1="133.3" y1="335.8" x2="135.9" y2="335.8" stroke="#231f20" stroke-width="1.1"/>
<text x="129.6" y="338.5" font-size="8.5" text-anchor="end" fill="#231f20" stroke="#231f20" stroke-width="0.15">50</text>
<line x1="133.3" y1="347.8" x2="135.9" y2="347.8" stroke="#231f20" stroke-width="1.1"/>
<text x="129.6" y="350.5" font-size="8.5" text-anchor="end" fill="#231f20" stroke="#231f20" stroke-width="0.15">0</text>
<line x1="135.3" y1="348" x2="191.8" y2="348" stroke="#231f20" stroke-width="1.4"/>
<line x1="152.2" y1="348" x2="152.2" y2="351" stroke="#231f20" stroke-width="1.1"/>
<line x1="175.8" y1="348" x2="175.8" y2="351" stroke="#231f20" stroke-width="1.1"/>
<line x1="156.3" y1="285.9" x2="173.7" y2="285.9" stroke="#555" stroke-width="1.1"/>
<text x="165.0" y="285.09999999999997" font-size="9" text-anchor="middle" fill="#231f20" stroke="#231f20" stroke-width="0.15">**</text>
<line x1="152.2" y1="320.6" x2="152.2" y2="326.2" stroke="#231f20" stroke-width="1"/>
<line x1="148.39999999999998" y1="320.6" x2="156.0" y2="320.6" stroke="#231f20" stroke-width="1"/>
<line x1="148.39999999999998" y1="326.2" x2="156.0" y2="326.2" stroke="#231f20" stroke-width="1"/>
<line x1="144.39999999999998" y1="323.5" x2="160.0" y2="323.5" stroke="#231f20" stroke-width="1.2"/>
<circle cx="152.2" cy="311" r="1.6" fill="#1d4691"/>
<circle cx="146.1" cy="323" r="1.6" fill="#1d4691"/>
<circle cx="150.8" cy="324.5" r="1.6" fill="#1d4691"/>
<circle cx="154.4" cy="324.2" r="1.6" fill="#1d4691"/>
<circle cx="158.8" cy="323.5" r="1.6" fill="#1d4691"/>
<circle cx="152.2" cy="333.9" r="1.6" fill="#1d4691"/>
<line x1="175.9" y1="300.5" x2="175.9" y2="312.4" stroke="#231f20" stroke-width="1"/>
<line x1="172.20000000000002" y1="300.5" x2="179.6" y2="300.5" stroke="#231f20" stroke-width="1"/>
<line x1="172.20000000000002" y1="312.4" x2="179.6" y2="312.4" stroke="#231f20" stroke-width="1"/>
<line x1="167.9" y1="306.4" x2="183.9" y2="306.4" stroke="#231f20" stroke-width="1.2"/>
<rect x="174.40" y="289.10" width="3.00" height="3.00" fill="#b3123b"/>
<rect x="171.80" y="295.00" width="3.00" height="3.00" fill="#b3123b"/>
<rect x="176.90" y="295.60" width="3.00" height="3.00" fill="#b3123b"/>
<rect x="174.40" y="305.80" width="3.00" height="3.00" fill="#b3123b"/>
<rect x="174.40" y="317.60" width="3.00" height="3.00" fill="#b3123b"/>
<rect x="174.40" y="326.60" width="3.00" height="3.00" fill="#b3123b"/>
<text transform="translate(155.7,359.8) rotate(-45)" font-size="9.2" font-style="italic" text-anchor="end" fill="#231f20">Crbn<tspan font-size="6.4" dx="0.6" dy="-3.3">+/+</tspan></text>
<text transform="translate(179.2,359.8) rotate(-45)" font-size="9.2" font-style="italic" text-anchor="end" fill="#231f20">Crbn<tspan font-size="6.4" dx="0.6" dy="-3.3">-/-</tspan></text>
<text x="209.8" y="258.5" font-size="12" text-anchor="start" fill="#000" font-weight="bold">D</text>
<text x="271.5" y="273.3" font-size="10.6" text-anchor="middle" fill="#231f20" textLength="45.8" lengthAdjust="spacingAndGlyphs" stroke="#231f20" stroke-width="0.15">Putrescine</text>
<line x1="244.7" y1="283" x2="244.7" y2="348.8" stroke="#231f20" stroke-width="1.4"/>
<line x1="242.1" y1="285.4" x2="244.7" y2="285.4" stroke="#231f20" stroke-width="1.1"/>
<text x="239.3" y="288.09999999999997" font-size="8.5" text-anchor="end" fill="#231f20" stroke="#231f20" stroke-width="0.15">150</text>
<line x1="242.1" y1="306.5" x2="244.7" y2="306.5" stroke="#231f20" stroke-width="1.1"/>
<text x="239.3" y="309.2" font-size="8.5" text-anchor="end" fill="#231f20" stroke="#231f20" stroke-width="0.15">100</text>
<line x1="242.1" y1="327.5" x2="244.7" y2="327.5" stroke="#231f20" stroke-width="1.1"/>
<text x="239.3" y="330.2" font-size="8.5" text-anchor="end" fill="#231f20" stroke="#231f20" stroke-width="0.15">50</text>
<line x1="242.1" y1="348.2" x2="244.7" y2="348.2" stroke="#231f20" stroke-width="1.1"/>
<text x="239.3" y="350.9" font-size="8.5" text-anchor="end" fill="#231f20" stroke="#231f20" stroke-width="0.15">0</text>
<line x1="244.1" y1="348.2" x2="297.1" y2="348.2" stroke="#231f20" stroke-width="1.4"/>
<line x1="260" y1="348.2" x2="260" y2="351.2" stroke="#231f20" stroke-width="1.1"/>
<line x1="283.6" y1="348.2" x2="283.6" y2="351.2" stroke="#231f20" stroke-width="1.1"/>
<text transform="translate(219.2,314.7) rotate(-90)" font-size="8.6" text-anchor="middle" fill="#231f20" stroke="#231f20" stroke-width="0.15">pMol</text>
<line x1="262.9" y1="285.9" x2="280.8" y2="285.9" stroke="#555" stroke-width="1.1"/>
<text x="271.85" y="285.09999999999997" font-size="9" text-anchor="middle" fill="#231f20" stroke="#231f20" stroke-width="0.15">*</text>
<line x1="260" y1="320.1" x2="260" y2="334.4" stroke="#4a6aa6" stroke-width="1"/>
<line x1="255.9" y1="320.1" x2="264.1" y2="320.1" stroke="#4a6aa6" stroke-width="1"/>
<line x1="255.9" y1="334.4" x2="264.1" y2="334.4" stroke="#4a6aa6" stroke-width="1"/>
<line x1="252.1" y1="327.5" x2="267.9" y2="327.5" stroke="#231f20" stroke-width="1.2"/>
<rect x="255.80" y="318.90" width="2.80" height="2.80" fill="#1d4691"/>
<rect x="261.50" y="320.00" width="2.80" height="2.80" fill="#1d4691"/>
<rect x="258.60" y="339.70" width="2.80" height="2.80" fill="#1d4691"/>
<line x1="283.3" y1="294" x2="283.3" y2="304.2" stroke="#c0254a" stroke-width="1"/>
<line x1="279.2" y1="294" x2="287.40000000000003" y2="294" stroke="#c0254a" stroke-width="1"/>
<line x1="279.2" y1="304.2" x2="287.40000000000003" y2="304.2" stroke="#c0254a" stroke-width="1"/>
<line x1="275.40000000000003" y1="299.1" x2="291.2" y2="299.1" stroke="#231f20" stroke-width="1.2"/>
<rect x="279.10" y="291.30" width="2.80" height="2.80" fill="#b3123b"/>
<rect x="284.70" y="293.90" width="2.80" height="2.80" fill="#b3123b"/>
<rect x="282.20" y="307.60" width="2.80" height="2.80" fill="#b3123b"/>
<text transform="translate(263.0,360.0) rotate(-45)" font-size="8.8" font-style="italic" text-anchor="end" fill="#231f20">Crbn<tspan font-size="6.2" dx="0.6" dy="-3.3">+/+</tspan></text>
<text transform="translate(286.5,360.0) rotate(-45)" font-size="8.8" font-style="italic" text-anchor="end" fill="#231f20">Crbn<tspan font-size="6.2" dx="0.6" dy="-3.3">-/-</tspan></text>
<text x="366.4" y="273.1" font-size="10.6" text-anchor="middle" fill="#231f20" textLength="51.4" lengthAdjust="spacingAndGlyphs" stroke="#231f20" stroke-width="0.15">Spermidine</text>
<line x1="339.2" y1="282" x2="339.2" y2="348.70000000000005" stroke="#231f20" stroke-width="1.4"/>
<line x1="336.59999999999997" y1="284.2" x2="339.2" y2="284.2" stroke="#231f20" stroke-width="1.1"/>
<text x="333.3" y="286.9" font-size="8.5" text-anchor="end" fill="#231f20" stroke="#231f20" stroke-width="0.15">2000</text>
<line x1="336.59999999999997" y1="300" x2="339.2" y2="300" stroke="#231f20" stroke-width="1.1"/>
<text x="333.3" y="302.7" font-size="8.5" text-anchor="end" fill="#231f20" stroke="#231f20" stroke-width="0.15">1500</text>
<line x1="336.59999999999997" y1="316.3" x2="339.2" y2="316.3" stroke="#231f20" stroke-width="1.1"/>
<text x="333.3" y="319.0" font-size="8.5" text-anchor="end" fill="#231f20" stroke="#231f20" stroke-width="0.15">1000</text>
<line x1="336.59999999999997" y1="332.2" x2="339.2" y2="332.2" stroke="#231f20" stroke-width="1.1"/>
<text x="333.3" y="334.9" font-size="8.5" text-anchor="end" fill="#231f20" stroke="#231f20" stroke-width="0.15">500</text>
<line x1="336.59999999999997" y1="348.1" x2="339.2" y2="348.1" stroke="#231f20" stroke-width="1.1"/>
<text x="333.3" y="350.8" font-size="8.5" text-anchor="end" fill="#231f20" stroke="#231f20" stroke-width="0.15">0</text>
<line x1="338.59999999999997" y1="348.1" x2="393.6" y2="348.1" stroke="#231f20" stroke-width="1.4"/>
<line x1="354.8" y1="348.1" x2="354.8" y2="351.1" stroke="#231f20" stroke-width="1.1"/>
<line x1="377.7" y1="348.1" x2="377.7" y2="351.1" stroke="#231f20" stroke-width="1.1"/>
<line x1="357.6" y1="293.1" x2="375.6" y2="293.1" stroke="#555" stroke-width="1.1"/>
<text x="366.6" y="292.3" font-size="9" text-anchor="middle" fill="#231f20" stroke="#231f20" stroke-width="0.15">*</text>
<line x1="354.8" y1="322.3" x2="354.8" y2="326.3" stroke="#4a6aa6" stroke-width="1"/>
<line x1="351.0" y1="322.3" x2="358.6" y2="322.3" stroke="#4a6aa6" stroke-width="1"/>
<line x1="351.0" y1="326.3" x2="358.6" y2="326.3" stroke="#4a6aa6" stroke-width="1"/>
<line x1="346.90000000000003" y1="324.2" x2="362.7" y2="324.2" stroke="#231f20" stroke-width="1.2"/>
<rect x="350.90" y="320.90" width="2.80" height="2.80" fill="#1d4691"/>
<rect x="356.20" y="321.30" width="2.80" height="2.80" fill="#1d4691"/>
<rect x="353.40" y="327.60" width="2.80" height="2.80" fill="#1d4691"/>
<line x1="378.1" y1="302.6" x2="378.1" y2="310.6" stroke="#c0254a" stroke-width="1"/>
<line x1="374.3" y1="302.6" x2="381.90000000000003" y2="302.6" stroke="#c0254a" stroke-width="1"/>
<line x1="374.3" y1="310.6" x2="381.90000000000003" y2="310.6" stroke="#c0254a" stroke-width="1"/>
<line x1="370.40000000000003" y1="306.4" x2="385.8" y2="306.4" stroke="#231f20" stroke-width="1.2"/>
<rect x="374.60" y="300.60" width="2.80" height="2.80" fill="#b3123b"/>
<rect x="379.50" y="301.60" width="2.80" height="2.80" fill="#b3123b"/>
<rect x="376.70" y="313.90" width="2.80" height="2.80" fill="#b3123b"/>
<text transform="translate(357.8,360.0) rotate(-45)" font-size="8.8" font-style="italic" text-anchor="end" fill="#231f20">Crbn<tspan font-size="6.2" dx="0.6" dy="-3.3">+/+</tspan></text>
<text transform="translate(380.7,360.0) rotate(-45)" font-size="8.8" font-style="italic" text-anchor="end" fill="#231f20">Crbn<tspan font-size="6.2" dx="0.6" dy="-3.3">-/-</tspan></text>
<text x="461.3" y="273.1" font-size="10.6" text-anchor="middle" fill="#231f20" textLength="43.4" lengthAdjust="spacingAndGlyphs" stroke="#231f20" stroke-width="0.15">Spermine</text>
<line x1="435" y1="280.8" x2="435" y2="348.3" stroke="#231f20" stroke-width="1.4"/>
<line x1="432.4" y1="282.9" x2="435" y2="282.9" stroke="#231f20" stroke-width="1.1"/>
<text x="429.5" y="285.59999999999997" font-size="8.5" text-anchor="end" fill="#231f20" stroke="#231f20" stroke-width="0.15">2500</text>
<line x1="432.4" y1="296.3" x2="435" y2="296.3" stroke="#231f20" stroke-width="1.1"/>
<text x="429.5" y="299.0" font-size="8.5" text-anchor="end" fill="#231f20" stroke="#231f20" stroke-width="0.15">2000</text>
<line x1="432.4" y1="309.4" x2="435" y2="309.4" stroke="#231f20" stroke-width="1.1"/>
<text x="429.5" y="312.09999999999997" font-size="8.5" text-anchor="end" fill="#231f20" stroke="#231f20" stroke-width="0.15">1500</text>
<line x1="432.4" y1="322.3" x2="435" y2="322.3" stroke="#231f20" stroke-width="1.1"/>
<text x="429.5" y="325.0" font-size="8.5" text-anchor="end" fill="#231f20" stroke="#231f20" stroke-width="0.15">1000</text>
<line x1="432.4" y1="335" x2="435" y2="335" stroke="#231f20" stroke-width="1.1"/>
<text x="429.5" y="337.7" font-size="8.5" text-anchor="end" fill="#231f20" stroke="#231f20" stroke-width="0.15">500</text>
<line x1="432.4" y1="347.7" x2="435" y2="347.7" stroke="#231f20" stroke-width="1.1"/>
<text x="429.5" y="350.4" font-size="8.5" text-anchor="end" fill="#231f20" stroke="#231f20" stroke-width="0.15">0</text>
<line x1="434.4" y1="347.7" x2="487.9" y2="347.7" stroke="#231f20" stroke-width="1.4"/>
<line x1="449.1" y1="347.7" x2="449.1" y2="350.7" stroke="#231f20" stroke-width="1.1"/>
<line x1="472" y1="347.7" x2="472" y2="350.7" stroke="#231f20" stroke-width="1.1"/>
<line x1="452.3" y1="284" x2="470.7" y2="284" stroke="#555" stroke-width="1.1"/>
<text x="461.5" y="283.2" font-size="9" text-anchor="middle" fill="#231f20" stroke="#231f20" stroke-width="0.15">*</text>
<line x1="449.1" y1="320.8" x2="449.1" y2="322.8" stroke="#4a6aa6" stroke-width="1"/>
<line x1="445.6" y1="320.8" x2="452.6" y2="320.8" stroke="#4a6aa6" stroke-width="1"/>
<line x1="445.6" y1="322.8" x2="452.6" y2="322.8" stroke="#4a6aa6" stroke-width="1"/>
<line x1="441.70000000000005" y1="321.8" x2="456.5" y2="321.8" stroke="#231f20" stroke-width="1.2"/>
<rect x="445.40" y="320.10" width="2.80" height="2.80" fill="#1d4691"/>
<rect x="449.90" y="319.20" width="2.80" height="2.80" fill="#1d4691"/>
<rect x="447.10" y="321.80" width="2.80" height="2.80" fill="#1d4691"/>
<line x1="472" y1="291.4" x2="472" y2="302.6" stroke="#c0254a" stroke-width="1"/>
<line x1="468.2" y1="291.4" x2="475.8" y2="291.4" stroke="#c0254a" stroke-width="1"/>
<line x1="468.2" y1="302.6" x2="475.8" y2="302.6" stroke="#c0254a" stroke-width="1"/>
<line x1="464.4" y1="296.7" x2="479.6" y2="296.7" stroke="#231f20" stroke-width="1.2"/>
<rect x="470.60" y="286.80" width="2.80" height="2.80" fill="#b3123b"/>
<rect x="470.60" y="293.20" width="2.80" height="2.80" fill="#b3123b"/>
<rect x="470.60" y="305.90" width="2.80" height="2.80" fill="#b3123b"/>
<text transform="translate(452.1,360.0) rotate(-45)" font-size="8.8" font-style="italic" text-anchor="end" fill="#231f20">Crbn<tspan font-size="6.2" dx="0.6" dy="-3.3">+/+</tspan></text>
<text transform="translate(475.0,360.0) rotate(-45)" font-size="8.8" font-style="italic" text-anchor="end" fill="#231f20">Crbn<tspan font-size="6.2" dx="0.6" dy="-3.3">-/-</tspan></text>
<text x="8" y="408" font-size="12" text-anchor="start" fill="#000" font-weight="bold">E</text>
<rect x="18.1" y="420.3" width="70.6" height="91.4" fill="none" stroke="#1a1a1a" stroke-width="1.3"/>
<text x="20.3" y="426.6" font-size="6.6" text-anchor="start" fill="#231f20" textLength="14.6" lengthAdjust="spacingAndGlyphs" stroke="#231f20" stroke-width="0.15">FMO</text>
<path d="M18.5,450.8 L30.8,450.8 L31.8,450.2 L32.6,447.5 L33.3,441 L33.9,433.5 L34.5,429.3 L35.1,432.5 L35.7,439.5 L36.4,446.5 L37.2,449.6 L38.2,450.8 L88.2,450.8 Z" fill="#cfe3bb"/>
<path d="M18.5,450.8 L30.8,450.8 L31.8,450.2 L32.6,447.5 L33.3,441 L33.9,433.5 L34.5,429.3 L35.1,432.5 L35.7,439.5 L36.4,446.5 L37.2,449.6 L38.2,450.8 L88.2,450.8" fill="none" stroke="#7cb84f" stroke-width="1.3"/>
<text x="21" y="459.7" font-size="7.4" font-style="italic" fill="#231f20" stroke="#231f20" stroke-width="0.15">Crbn<tspan font-size="6" dy="-3.6">+/+</tspan></text>
<path d="M18.5,481.6 L35.8,481.3 L37.5,480.4 L39.6,478.2 L41.9,473.6 L43.2,470.5 L44.2,467.3 L45,464 L45.8,461.2 L46.8,458.3 L47.6,456.5 L48.6,455.2 L49.4,454.4 L50.3,454.9 L51.2,455.9 L51.8,458.5 L52.4,461.5 L53.5,467.3 L54.4,470.8 L55.3,473.4 L57,475.8 L58.8,477.2 L61,477.9 L64.2,478.3 L67,478.6 L70.4,478.3 L73.5,478.7 L76.5,478.8 L79.5,479.5 L82.7,480.4 L85.5,481 L88.2,481.4 L88.2,481.6 Z" fill="#8f97c6"/>
<path d="M18.5,481.6 L35.8,481.3 L37.5,480.4 L39.6,478.2 L41.9,473.6 L43.2,470.5 L44.2,467.3 L45,464 L45.8,461.2 L46.8,458.3 L47.6,456.5 L48.6,455.2 L49.4,454.4 L50.3,454.9 L51.2,455.9 L51.8,458.5 L52.4,461.5 L53.5,467.3 L54.4,470.8 L55.3,473.4 L57,475.8 L58.8,477.2 L61,477.9 L64.2,478.3 L67,478.6 L70.4,478.3 L73.5,478.7 L76.5,478.8 L79.5,479.5 L82.7,480.4 L85.5,481 L88.2,481.4" fill="none" stroke="#274b8c" stroke-width="1.3"/>
<text x="21.3" y="490" font-size="7.4" font-style="italic" fill="#231f20" stroke="#231f20" stroke-width="0.15">Crbn<tspan font-size="6" dy="-3.6">-/-</tspan></text>
<path d="M18.5,511.4 L36.5,510.9 L38.5,510.2 L40.4,509.4 L42,507.8 L43.5,504.9 L44.7,501 L45.8,496.5 L46.8,492.5 L47.8,488.8 L48.8,486.3 L49.7,485.4 L50.6,485.5 L51.5,486.8 L52.4,489.5 L53.3,493.3 L54.2,497 L55.3,499.5 L56.5,501 L58.5,503 L61.2,505.2 L63.5,506 L65.8,506.4 L67.5,506.5 L69.6,506.8 L71.3,506.2 L72.7,504.9 L74.3,503.8 L75.8,503.1 L78.1,502.8 L79.5,503.6 L80.4,504.8 L81.6,506.4 L82.7,508 L84,509.6 L85.5,510.8 L86.5,510.7 L87.3,510 L88.2,508.9 L88.2,511.4 Z" fill="#d9958a"/>
<path d="M34.5,511.2 L36.5,510.9 L38.5,510.2 L40.4,509.4 L42,507.8 L43.5,504.9 L44.7,501 L45.8,496.5 L46.8,492.5 L47.8,488.8 L48.8,486.3 L49.7,485.4 L50.6,485.5 L51.5,486.8 L52.4,489.5 L53.3,493.3 L54.2,497 L55.3,499.5 L56.5,501 L58.5,503 L61.2,505.2 L63.5,506 L65.8,506.4 L67.5,506.5 L69.6,506.8 L71.3,506.2 L72.7,504.9 L74.3,503.8 L75.8,503.1 L78.1,502.8 L79.5,503.6 L80.4,504.8 L81.6,506.4 L82.7,508 L84,509.6 L85.5,510.8 L86.5,510.7 L87.3,510 L88.2,508.9" fill="none" stroke="#b01232" stroke-width="1.4"/>
<line x1="22.4" y1="512" x2="22.4" y2="514.6" stroke="#333" stroke-width="0.8"/>
<line x1="25.5" y1="512" x2="25.5" y2="514.6" stroke="#333" stroke-width="0.8"/>
<line x1="28" y1="512" x2="28" y2="514.6" stroke="#333" stroke-width="0.8"/>
<line x1="30.4" y1="512" x2="30.4" y2="514.6" stroke="#333" stroke-width="0.8"/>
<line x1="35" y1="512" x2="35" y2="514.6" stroke="#333" stroke-width="0.8"/>
<line x1="40.4" y1="512" x2="40.4" y2="514.6" stroke="#333" stroke-width="0.8"/>
<line x1="42" y1="512" x2="42" y2="514.6" stroke="#333" stroke-width="0.8"/>
<line x1="44" y1="512" x2="44" y2="514.6" stroke="#333" stroke-width="0.8"/>
<line x1="46" y1="512" x2="46" y2="514.6" stroke="#333" stroke-width="0.8"/>
<line x1="51.6" y1="512" x2="51.6" y2="514.6" stroke="#333" stroke-width="0.8"/>
<line x1="54" y1="512" x2="54" y2="514.6" stroke="#333" stroke-width="0.8"/>
<line x1="56" y1="512" x2="56" y2="514.6" stroke="#333" stroke-width="0.8"/>
<line x1="58.5" y1="512" x2="58.5" y2="514.6" stroke="#333" stroke-width="0.8"/>
<line x1="60.5" y1="512" x2="60.5" y2="514.6" stroke="#333" stroke-width="0.8"/>
<line x1="64" y1="512" x2="64" y2="514.6" stroke="#333" stroke-width="0.8"/>
<line x1="68.8" y1="512" x2="68.8" y2="514.6" stroke="#333" stroke-width="0.8"/>
<line x1="71" y1="512" x2="71" y2="514.6" stroke="#333" stroke-width="0.8"/>
<line x1="73" y1="512" x2="73" y2="514.6" stroke="#333" stroke-width="0.8"/>
<line x1="75" y1="512" x2="75" y2="514.6" stroke="#333" stroke-width="0.8"/>
<line x1="77" y1="512" x2="77" y2="514.6" stroke="#333" stroke-width="0.8"/>
<line x1="79.5" y1="512" x2="79.5" y2="514.6" stroke="#333" stroke-width="0.8"/>
<line x1="82.5" y1="512" x2="82.5" y2="514.6" stroke="#333" stroke-width="0.8"/>
<line x1="86.5" y1="512" x2="86.5" y2="514.6" stroke="#333" stroke-width="0.8"/>
<line x1="19.3" y1="521.8" x2="43.80" y2="521.80" stroke="#231f20" stroke-width="1.1"/>
<polygon points="48.10,521.80 43.30,523.70 43.30,519.90" fill="#231f20"/>
<text x="23" y="531.8" font-size="8.4" text-anchor="start" fill="#231f20" textLength="21.2" lengthAdjust="spacingAndGlyphs" stroke="#231f20" stroke-width="0.15">CD98</text>
<line x1="135" y1="434.2" x2="135" y2="512.8000000000001" stroke="#231f20" stroke-width="1.4"/>
<line x1="132.4" y1="436.1" x2="135" y2="436.1" stroke="#231f20" stroke-width="1.1"/>
<text x="128.5" y="438.8" font-size="8.5" text-anchor="end" fill="#231f20" stroke="#231f20" stroke-width="0.15">60</text>
<line x1="132.4" y1="461.4" x2="135" y2="461.4" stroke="#231f20" stroke-width="1.1"/>
<text x="128.5" y="464.09999999999997" font-size="8.5" text-anchor="end" fill="#231f20" stroke="#231f20" stroke-width="0.15">40</text>
<line x1="132.4" y1="486.9" x2="135" y2="486.9" stroke="#231f20" stroke-width="1.1"/>
<text x="128.5" y="489.59999999999997" font-size="8.5" text-anchor="end" fill="#231f20" stroke="#231f20" stroke-width="0.15">20</text>
<line x1="132.4" y1="512.2" x2="135" y2="512.2" stroke="#231f20" stroke-width="1.1"/>
<text x="128.5" y="514.9000000000001" font-size="8.5" text-anchor="end" fill="#231f20" stroke="#231f20" stroke-width="0.15">0</text>
<line x1="134.4" y1="512.2" x2="182.7" y2="512.2" stroke="#231f20" stroke-width="1.4"/>
<line x1="148.5" y1="512.2" x2="148.5" y2="515.2" stroke="#231f20" stroke-width="1.1"/>
<line x1="168.6" y1="512.2" x2="168.6" y2="515.2" stroke="#231f20" stroke-width="1.1"/>
<text transform="translate(112,475) rotate(-90)" font-size="8.8" text-anchor="middle" fill="#231f20" textLength="34" lengthAdjust="spacingAndGlyphs" stroke="#231f20" stroke-width="0.15">% CD98+</text>
<rect x="142.3" y="487.3" width="12.7" height="24.9" fill="#274a8a" stroke="#1a2f5a" stroke-width="0.6"/>
<rect x="162.3" y="454.4" width="13.4" height="57.8" fill="#aa0a2e" stroke="#6a0a1c" stroke-width="0.6"/>
<line x1="148.6" y1="485" x2="148.6" y2="489.4" stroke="#231f20" stroke-width="1"/>
<line x1="145.6" y1="485" x2="151.6" y2="485" stroke="#231f20" stroke-width="1"/>
<line x1="145.6" y1="489.4" x2="151.6" y2="489.4" stroke="#231f20" stroke-width="1"/>
<line x1="148.6" y1="487.3" x2="148.6" y2="487.3" stroke="#231f20" stroke-width="1.2"/>
<line x1="169" y1="450.3" x2="169" y2="458.3" stroke="#231f20" stroke-width="1"/>
<line x1="166" y1="450.3" x2="172" y2="450.3" stroke="#231f20" stroke-width="1"/>
<line x1="166" y1="458.3" x2="172" y2="458.3" stroke="#231f20" stroke-width="1"/>
<line x1="169" y1="454.4" x2="169" y2="454.4" stroke="#231f20" stroke-width="1.2"/>
<line x1="149.2" y1="443.6" x2="167.8" y2="443.6" stroke="#555" stroke-width="1.1"/>
<text x="158.5" y="442.8" font-size="9" text-anchor="middle" fill="#231f20" stroke="#231f20" stroke-width="0.15">**</text>
<text transform="translate(152.1,523.5) rotate(-45)" font-size="9.2" font-style="italic" text-anchor="end" fill="#231f20">Crbn<tspan font-size="6.4" dx="0.6" dy="-3.3">+/+</tspan></text>
<text transform="translate(172.1,523.5) rotate(-45)" font-size="9.2" font-style="italic" text-anchor="end" fill="#231f20">Crbn<tspan font-size="6.4" dx="0.6" dy="-3.3">-/-</tspan></text>
<text x="199.8" y="407.4" font-size="12" text-anchor="start" fill="#000" font-weight="bold">F</text>
<circle cx="237.1" cy="422.5" r="2.1" fill="#1d4691"/>
<text x="242.39999999999998" y="425.2" font-size="8.4" font-style="italic" fill="#231f20" stroke="#231f20" stroke-width="0.15">Crbn<tspan font-size="5.6" dy="-3.4">+/+</tspan></text>
<rect x="273.2" y="420.3" width="4" height="4" fill="#b3123b"/>
<text x="280.3" y="425.2" font-size="8.4" font-style="italic" fill="#231f20" stroke="#231f20" stroke-width="0.15">Crbn<tspan font-size="5.6" dy="-3.4">-/-</tspan></text>
<line x1="230.8" y1="431" x2="230.8" y2="512.6" stroke="#231f20" stroke-width="1.4"/>
<line x1="228.20000000000002" y1="432.6" x2="230.8" y2="432.6" stroke="#231f20" stroke-width="1.1"/>
<text x="225.4" y="435.3" font-size="8.6" text-anchor="end" fill="#231f20" stroke="#231f20" stroke-width="0.15">1.5</text>
<line x1="228.20000000000002" y1="459.6" x2="230.8" y2="459.6" stroke="#231f20" stroke-width="1.1"/>
<text x="225.4" y="462.3" font-size="8.6" text-anchor="end" fill="#231f20" stroke="#231f20" stroke-width="0.15">1.0</text>
<line x1="228.20000000000002" y1="485.9" x2="230.8" y2="485.9" stroke="#231f20" stroke-width="1.1"/>
<text x="225.4" y="488.59999999999997" font-size="8.6" text-anchor="end" fill="#231f20" stroke="#231f20" stroke-width="0.15">0.5</text>
<line x1="228.20000000000002" y1="512" x2="230.8" y2="512" stroke="#231f20" stroke-width="1.1"/>
<text x="225.4" y="514.7" font-size="8.6" text-anchor="end" fill="#231f20" stroke="#231f20" stroke-width="0.15">0.0</text>
<line x1="230.20000000000002" y1="512" x2="347.3" y2="512" stroke="#231f20" stroke-width="1.4"/>
<line x1="241.4" y1="512" x2="241.4" y2="515" stroke="#231f20" stroke-width="1.1"/>
<line x1="265.1" y1="512" x2="265.1" y2="515" stroke="#231f20" stroke-width="1.1"/>
<line x1="288.8" y1="512" x2="288.8" y2="515" stroke="#231f20" stroke-width="1.1"/>
<line x1="312.4" y1="512" x2="312.4" y2="515" stroke="#231f20" stroke-width="1.1"/>
<line x1="336.2" y1="512" x2="336.2" y2="515" stroke="#231f20" stroke-width="1.1"/>
<text x="241.6" y="526.1" font-size="8.6" text-anchor="middle" fill="#231f20" stroke="#231f20" stroke-width="0.15">0</text>
<text x="264.4" y="526.1" font-size="8.6" text-anchor="middle" fill="#231f20" stroke="#231f20" stroke-width="0.15">0.5</text>
<text x="288.6" y="526.1" font-size="8.6" text-anchor="middle" fill="#231f20" stroke="#231f20" stroke-width="0.15">1</text>
<text x="312.4" y="526.1" font-size="8.6" text-anchor="middle" fill="#231f20" stroke="#231f20" stroke-width="0.15">5</text>
<text x="336.4" y="526.1" font-size="8.6" text-anchor="middle" fill="#231f20" stroke="#231f20" stroke-width="0.15">10</text>
<text x="289.5" y="539.7" font-size="10" text-anchor="middle" fill="#231f20" textLength="43.6" lengthAdjust="spacingAndGlyphs" stroke="#231f20" stroke-width="0.15">DFMO (mM)</text>
<text transform="translate(207.2,470.9) rotate(-90)" font-size="8.8" text-anchor="middle" fill="#231f20" textLength="50.7" lengthAdjust="spacingAndGlyphs" stroke="#231f20" stroke-width="0.15">Division index</text>
<line x1="233.3" y1="447" x2="251.3" y2="447" stroke="#555" stroke-width="1.1"/>
<text x="242.3" y="446.2" font-size="9" text-anchor="middle" fill="#231f20" stroke="#231f20" stroke-width="0.15">****</text>
<line x1="255.3" y1="466.5" x2="273.7" y2="466.5" stroke="#555" stroke-width="1.1"/>
<text x="264.5" y="464.3" font-size="8" text-anchor="middle" fill="#231f20" stroke="#231f20" stroke-width="0.15">n.s.</text>
<line x1="278.4" y1="475.7" x2="296.5" y2="475.7" stroke="#555" stroke-width="1.1"/>
<text x="287.45" y="473.5" font-size="8" text-anchor="middle" fill="#231f20" stroke="#231f20" stroke-width="0.15">n.s.</text>
<line x1="302.4" y1="477.5" x2="320.7" y2="477.5" stroke="#555" stroke-width="1.1"/>
<text x="311.54999999999995" y="475.3" font-size="8" text-anchor="middle" fill="#231f20" stroke="#231f20" stroke-width="0.15">n.s.</text>
<line x1="326" y1="490.3" x2="343.9" y2="490.3" stroke="#555" stroke-width="1.1"/>
<text x="334.95" y="488.1" font-size="8" text-anchor="middle" fill="#231f20" stroke="#231f20" stroke-width="0.15">n.s.</text>
<line x1="237.4" y1="486.5" x2="237.4" y2="493.1" stroke="#231f20" stroke-width="1"/>
<line x1="235.20000000000002" y1="486.5" x2="239.6" y2="486.5" stroke="#231f20" stroke-width="1"/>
<line x1="235.20000000000002" y1="493.1" x2="239.6" y2="493.1" stroke="#231f20" stroke-width="1"/>
<line x1="233.8" y1="489.8" x2="241.0" y2="489.8" stroke="#231f20" stroke-width="1.2"/>
<circle cx="237.4" cy="483.4" r="1.75" fill="#1d4691"/>
<circle cx="235.4" cy="493.3" r="1.75" fill="#1d4691"/>
<circle cx="239.7" cy="491.6" r="1.75" fill="#1d4691"/>
<circle cx="237.4" cy="490" r="1.75" fill="#1d4691"/>
<line x1="245.4" y1="462.9666666666667" x2="245.4" y2="467.23333333333335" stroke="#231f20" stroke-width="1"/>
<line x1="243.20000000000002" y1="462.9666666666667" x2="247.6" y2="462.9666666666667" stroke="#231f20" stroke-width="1"/>
<line x1="243.20000000000002" y1="467.23333333333335" x2="247.6" y2="467.23333333333335" stroke="#231f20" stroke-width="1"/>
<line x1="241.8" y1="465.1" x2="249.0" y2="465.1" stroke="#231f20" stroke-width="1.2"/>
<rect x="241.60" y="460.60" width="3.20" height="3.20" fill="#b3123b"/>
<rect x="245.90" y="461.80" width="3.20" height="3.20" fill="#b3123b"/>
<rect x="244.10" y="467.00" width="3.20" height="3.20" fill="#b3123b"/>
<line x1="261" y1="490.3333333333333" x2="261" y2="494.46666666666664" stroke="#231f20" stroke-width="1"/>
<line x1="258.8" y1="490.3333333333333" x2="263.2" y2="490.3333333333333" stroke="#231f20" stroke-width="1"/>
<line x1="258.8" y1="494.46666666666664" x2="263.2" y2="494.46666666666664" stroke="#231f20" stroke-width="1"/>
<line x1="257.4" y1="492.4" x2="264.6" y2="492.4" stroke="#231f20" stroke-width="1.2"/>
<circle cx="261" cy="489.3" r="1.75" fill="#1d4691"/>
<circle cx="259.2" cy="495.5" r="1.75" fill="#1d4691"/>
<circle cx="263" cy="493.3" r="1.75" fill="#1d4691"/>
<line x1="269.6" y1="478.6333333333333" x2="269.6" y2="488.9666666666667" stroke="#231f20" stroke-width="1"/>
<line x1="267.40000000000003" y1="478.6333333333333" x2="271.8" y2="478.6333333333333" stroke="#231f20" stroke-width="1"/>
<line x1="267.40000000000003" y1="488.9666666666667" x2="271.8" y2="488.9666666666667" stroke="#231f20" stroke-width="1"/>
<line x1="266.0" y1="483.8" x2="273.20000000000005" y2="483.8" stroke="#231f20" stroke-width="1.2"/>
<rect x="268.00" y="473.90" width="3.20" height="3.20" fill="#b3123b"/>
<rect x="268.00" y="483.90" width="3.20" height="3.20" fill="#b3123b"/>
<rect x="268.00" y="489.40" width="3.20" height="3.20" fill="#b3123b"/>
<line x1="284.5" y1="491.2" x2="284.5" y2="497.2" stroke="#231f20" stroke-width="1"/>
<line x1="282.3" y1="491.2" x2="286.7" y2="491.2" stroke="#231f20" stroke-width="1"/>
<line x1="282.3" y1="497.2" x2="286.7" y2="497.2" stroke="#231f20" stroke-width="1"/>
<line x1="280.9" y1="494.2" x2="288.1" y2="494.2" stroke="#231f20" stroke-width="1.2"/>
<circle cx="284.5" cy="488.2" r="1.75" fill="#1d4691"/>
<circle cx="282.7" cy="497.2" r="1.75" fill="#1d4691"/>
<circle cx="286.5" cy="497" r="1.75" fill="#1d4691"/>
<line x1="293.5" y1="486.09999999999997" x2="293.5" y2="492.3" stroke="#231f20" stroke-width="1"/>
<line x1="291.3" y1="486.09999999999997" x2="295.7" y2="486.09999999999997" stroke="#231f20" stroke-width="1"/>
<line x1="291.3" y1="492.3" x2="295.7" y2="492.3" stroke="#231f20" stroke-width="1"/>
<line x1="289.9" y1="489.2" x2="297.1" y2="489.2" stroke="#231f20" stroke-width="1.2"/>
<rect x="291.90" y="482.20" width="3.20" height="3.20" fill="#b3123b"/>
<rect x="294.20" y="487.90" width="3.20" height="3.20" fill="#b3123b"/>
<rect x="290.00" y="491.50" width="3.20" height="3.20" fill="#b3123b"/>
<line x1="308.1" y1="497.1333333333333" x2="308.1" y2="499.8666666666667" stroke="#231f20" stroke-width="1"/>
<line x1="305.90000000000003" y1="497.1333333333333" x2="310.3" y2="497.1333333333333" stroke="#231f20" stroke-width="1"/>
<line x1="305.90000000000003" y1="499.8666666666667" x2="310.3" y2="499.8666666666667" stroke="#231f20" stroke-width="1"/>
<line x1="304.5" y1="498.5" x2="311.70000000000005" y2="498.5" stroke="#231f20" stroke-width="1.2"/>
<circle cx="307.3" cy="496.2" r="1.75" fill="#1d4691"/>
<circle cx="308" cy="499.2" r="1.75" fill="#1d4691"/>
<circle cx="308.8" cy="500.3" r="1.75" fill="#1d4691"/>
<line x1="316.5" y1="487.56666666666666" x2="316.5" y2="494.03333333333336" stroke="#231f20" stroke-width="1"/>
<line x1="314.3" y1="487.56666666666666" x2="318.7" y2="487.56666666666666" stroke="#231f20" stroke-width="1"/>
<line x1="314.3" y1="494.03333333333336" x2="318.7" y2="494.03333333333336" stroke="#231f20" stroke-width="1"/>
<line x1="312.9" y1="490.8" x2="320.1" y2="490.8" stroke="#231f20" stroke-width="1.2"/>
<rect x="313.70" y="484.90" width="3.20" height="3.20" fill="#b3123b"/>
<rect x="317.20" y="487.90" width="3.20" height="3.20" fill="#b3123b"/>
<rect x="315.20" y="494.60" width="3.20" height="3.20" fill="#b3123b"/>
<line x1="331.9" y1="502.33333333333337" x2="331.9" y2="506.26666666666665" stroke="#231f20" stroke-width="1"/>
<line x1="329.7" y1="502.33333333333337" x2="334.09999999999997" y2="502.33333333333337" stroke="#231f20" stroke-width="1"/>
<line x1="329.7" y1="506.26666666666665" x2="334.09999999999997" y2="506.26666666666665" stroke="#231f20" stroke-width="1"/>
<line x1="328.29999999999995" y1="504.3" x2="335.5" y2="504.3" stroke="#231f20" stroke-width="1.2"/>
<circle cx="331.9" cy="500.3" r="1.75" fill="#1d4691"/>
<circle cx="330.4" cy="506.2" r="1.75" fill="#1d4691"/>
<circle cx="334.2" cy="505.8" r="1.75" fill="#1d4691"/>
<line x1="340.4" y1="497.76666666666665" x2="340.4" y2="500.6333333333333" stroke="#231f20" stroke-width="1"/>
<line x1="338.2" y1="497.76666666666665" x2="342.59999999999997" y2="497.76666666666665" stroke="#231f20" stroke-width="1"/>
<line x1="338.2" y1="500.6333333333333" x2="342.59999999999997" y2="500.6333333333333" stroke="#231f20" stroke-width="1"/>
<line x1="336.79999999999995" y1="499.2" x2="344.0" y2="499.2" stroke="#231f20" stroke-width="1.2"/>
<rect x="338.80" y="495.60" width="3.20" height="3.20" fill="#b3123b"/>
<rect x="340.80" y="497.20" width="3.20" height="3.20" fill="#b3123b"/>
<rect x="338.80" y="499.90" width="3.20" height="3.20" fill="#b3123b"/>
<text x="364.5" y="407.6" font-size="12" text-anchor="start" fill="#000" font-weight="bold">G</text>
<circle cx="403.5" cy="422.5" r="2.1" fill="#1d4691"/>
<text x="408.8" y="425.2" font-size="8.4" font-style="italic" fill="#231f20" stroke="#231f20" stroke-width="0.15">Crbn<tspan font-size="5.6" dy="-3.4">+/+</tspan></text>
<rect x="439.6" y="420.3" width="4" height="4" fill="#b3123b"/>
<text x="446.70000000000005" y="425.2" font-size="8.4" font-style="italic" fill="#231f20" stroke="#231f20" stroke-width="0.15">Crbn<tspan font-size="5.6" dy="-3.4">-/-</tspan></text>
<line x1="396.4" y1="431" x2="396.4" y2="512.9" stroke="#231f20" stroke-width="1.4"/>
<line x1="393.79999999999995" y1="432.3" x2="396.4" y2="432.3" stroke="#231f20" stroke-width="1.1"/>
<text x="390.6" y="435.0" font-size="8.6" text-anchor="end" fill="#231f20" stroke="#231f20" stroke-width="0.15">1.5</text>
<line x1="393.79999999999995" y1="459.2" x2="396.4" y2="459.2" stroke="#231f20" stroke-width="1.1"/>
<text x="390.6" y="461.9" font-size="8.6" text-anchor="end" fill="#231f20" stroke="#231f20" stroke-width="0.15">1.0</text>
<line x1="393.79999999999995" y1="485.8" x2="396.4" y2="485.8" stroke="#231f20" stroke-width="1.1"/>
<text x="390.6" y="488.5" font-size="8.6" text-anchor="end" fill="#231f20" stroke="#231f20" stroke-width="0.15">0.5</text>
<line x1="393.79999999999995" y1="512.3" x2="396.4" y2="512.3" stroke="#231f20" stroke-width="1.1"/>
<text x="390.6" y="515.0" font-size="8.6" text-anchor="end" fill="#231f20" stroke="#231f20" stroke-width="0.15">0.0</text>
<line x1="395.79999999999995" y1="512.3" x2="512.6" y2="512.3" stroke="#231f20" stroke-width="1.4"/>
<line x1="411.3" y1="512.3" x2="411.3" y2="515.3" stroke="#231f20" stroke-width="1.1"/>
<line x1="440.1" y1="512.3" x2="440.1" y2="515.3" stroke="#231f20" stroke-width="1.1"/>
<line x1="469" y1="512.3" x2="469" y2="515.3" stroke="#231f20" stroke-width="1.1"/>
<line x1="498.4" y1="512.3" x2="498.4" y2="515.3" stroke="#231f20" stroke-width="1.1"/>
<text x="411.2" y="526.1" font-size="8.6" text-anchor="middle" fill="#231f20" stroke="#231f20" stroke-width="0.15">0</text>
<text x="440.7" y="526.1" font-size="8.6" text-anchor="middle" fill="#231f20" stroke="#231f20" stroke-width="0.15">0.2</text>
<text x="469.8" y="526.1" font-size="8.6" text-anchor="middle" fill="#231f20" stroke="#231f20" stroke-width="0.15">1</text>
<text x="497.8" y="526.1" font-size="8.6" text-anchor="middle" fill="#231f20" stroke="#231f20" stroke-width="0.15">5</text>
<text x="454.5" y="540" font-size="10.2" text-anchor="middle" fill="#231f20" textLength="60.5" lengthAdjust="spacingAndGlyphs" stroke="#231f20" stroke-width="0.15">Oligomycin (µM)</text>
<text transform="translate(372.5,470.7) rotate(-90)" font-size="8.8" text-anchor="middle" fill="#231f20" textLength="50.7" lengthAdjust="spacingAndGlyphs" stroke="#231f20" stroke-width="0.15">Division index</text>
<line x1="401.2" y1="441.4" x2="419.4" y2="441.4" stroke="#555" stroke-width="1.1"/>
<text x="410.29999999999995" y="440.59999999999997" font-size="9" text-anchor="middle" fill="#231f20" stroke="#231f20" stroke-width="0.15">***</text>
<line x1="431" y1="446.6" x2="449.6" y2="446.6" stroke="#555" stroke-width="1.1"/>
<text x="440.3" y="445.8" font-size="9" text-anchor="middle" fill="#231f20" stroke="#231f20" stroke-width="0.15">****</text>
<line x1="460" y1="465.6" x2="478.5" y2="465.6" stroke="#555" stroke-width="1.1"/>
<text x="469.25" y="464.8" font-size="9" text-anchor="middle" fill="#231f20" stroke="#231f20" stroke-width="0.15">**</text>
<line x1="489.8" y1="501" x2="507.9" y2="501" stroke="#555" stroke-width="1.1"/>
<text x="498.85" y="498.8" font-size="8" text-anchor="middle" fill="#231f20" stroke="#231f20" stroke-width="0.15">n.s.</text>
<line x1="405.9" y1="471.25" x2="405.9" y2="474.75" stroke="#231f20" stroke-width="1"/>
<line x1="403.7" y1="471.25" x2="408.09999999999997" y2="471.25" stroke="#231f20" stroke-width="1"/>
<line x1="403.7" y1="474.75" x2="408.09999999999997" y2="474.75" stroke="#231f20" stroke-width="1"/>
<line x1="402.29999999999995" y1="473" x2="409.5" y2="473" stroke="#231f20" stroke-width="1.2"/>
<circle cx="405.9" cy="467" r="1.75" fill="#1d4691"/>
<circle cx="403.5" cy="473.4" r="1.75" fill="#1d4691"/>
<circle cx="406.5" cy="474" r="1.75" fill="#1d4691"/>
<circle cx="408.1" cy="473" r="1.75" fill="#1d4691"/>
<circle cx="404.5" cy="473.6" r="1.75" fill="#1d4691"/>
<line x1="416.8" y1="453.0" x2="416.8" y2="466.20000000000005" stroke="#231f20" stroke-width="1"/>
<line x1="414.6" y1="453.0" x2="419.0" y2="453.0" stroke="#231f20" stroke-width="1"/>
<line x1="414.6" y1="466.20000000000005" x2="419.0" y2="466.20000000000005" stroke="#231f20" stroke-width="1"/>
<line x1="413.2" y1="459.6" x2="420.40000000000003" y2="459.6" stroke="#231f20" stroke-width="1.2"/>
<rect x="415.20" y="445.00" width="3.20" height="3.20" fill="#b3123b"/>
<rect x="415.20" y="451.10" width="3.20" height="3.20" fill="#b3123b"/>
<rect x="412.60" y="458.00" width="3.20" height="3.20" fill="#b3123b"/>
<rect x="416.90" y="460.00" width="3.20" height="3.20" fill="#b3123b"/>
<rect x="415.20" y="471.40" width="3.20" height="3.20" fill="#b3123b"/>
<line x1="434.9" y1="475.09999999999997" x2="434.9" y2="482.7" stroke="#231f20" stroke-width="1"/>
<line x1="432.7" y1="475.09999999999997" x2="437.09999999999997" y2="475.09999999999997" stroke="#231f20" stroke-width="1"/>
<line x1="432.7" y1="482.7" x2="437.09999999999997" y2="482.7" stroke="#231f20" stroke-width="1"/>
<line x1="431.29999999999995" y1="478.9" x2="438.5" y2="478.9" stroke="#231f20" stroke-width="1.2"/>
<circle cx="432.9" cy="470.3" r="1.75" fill="#1d4691"/>
<circle cx="436.7" cy="473.4" r="1.75" fill="#1d4691"/>
<circle cx="434.9" cy="481.2" r="1.75" fill="#1d4691"/>
<circle cx="434.9" cy="483.4" r="1.75" fill="#1d4691"/>
<circle cx="435.3" cy="485.5" r="1.75" fill="#1d4691"/>
<line x1="445.7" y1="455.9" x2="445.7" y2="460.5" stroke="#231f20" stroke-width="1"/>
<line x1="443.5" y1="455.9" x2="447.9" y2="455.9" stroke="#231f20" stroke-width="1"/>
<line x1="443.5" y1="460.5" x2="447.9" y2="460.5" stroke="#231f20" stroke-width="1"/>
<line x1="442.09999999999997" y1="458.2" x2="449.3" y2="458.2" stroke="#231f20" stroke-width="1.2"/>
<rect x="442.80" y="453.10" width="3.20" height="3.20" fill="#b3123b"/>
<rect x="445.40" y="451.90" width="3.20" height="3.20" fill="#b3123b"/>
<rect x="442.00" y="461.10" width="3.20" height="3.20" fill="#b3123b"/>
<rect x="446.30" y="459.70" width="3.20" height="3.20" fill="#b3123b"/>
<rect x="444.10" y="456.40" width="3.20" height="3.20" fill="#b3123b"/>
<line x1="463.8" y1="487.75" x2="463.8" y2="495.25" stroke="#231f20" stroke-width="1"/>
<line x1="461.6" y1="487.75" x2="466.0" y2="487.75" stroke="#231f20" stroke-width="1"/>
<line x1="461.6" y1="495.25" x2="466.0" y2="495.25" stroke="#231f20" stroke-width="1"/>
<line x1="460.2" y1="491.5" x2="467.40000000000003" y2="491.5" stroke="#231f20" stroke-width="1.2"/>
<circle cx="463.8" cy="484.3" r="1.75" fill="#1d4691"/>
<circle cx="461.8" cy="491.2" r="1.75" fill="#1d4691"/>
<circle cx="465.9" cy="490.7" r="1.75" fill="#1d4691"/>
<circle cx="463.8" cy="492.4" r="1.75" fill="#1d4691"/>
<circle cx="463.8" cy="499.3" r="1.75" fill="#1d4691"/>
<line x1="475.1" y1="476.825" x2="475.1" y2="481.97499999999997" stroke="#231f20" stroke-width="1"/>
<line x1="472.90000000000003" y1="476.825" x2="477.3" y2="476.825" stroke="#231f20" stroke-width="1"/>
<line x1="472.90000000000003" y1="481.97499999999997" x2="477.3" y2="481.97499999999997" stroke="#231f20" stroke-width="1"/>
<line x1="471.5" y1="479.4" x2="478.70000000000005" y2="479.4" stroke="#231f20" stroke-width="1.2"/>
<rect x="473.50" y="470.10" width="3.20" height="3.20" fill="#b3123b"/>
<rect x="470.90" y="478.40" width="3.20" height="3.20" fill="#b3123b"/>
<rect x="475.70" y="476.60" width="3.20" height="3.20" fill="#b3123b"/>
<rect x="473.50" y="480.40" width="3.20" height="3.20" fill="#b3123b"/>
<rect x="472.40" y="477.90" width="3.20" height="3.20" fill="#b3123b"/>
<line x1="492.9" y1="508.25" x2="492.9" y2="508.75" stroke="#231f20" stroke-width="1"/>
<line x1="490.7" y1="508.25" x2="495.09999999999997" y2="508.25" stroke="#231f20" stroke-width="1"/>
<line x1="490.7" y1="508.75" x2="495.09999999999997" y2="508.75" stroke="#231f20" stroke-width="1"/>
<line x1="489.29999999999995" y1="508.5" x2="496.5" y2="508.5" stroke="#231f20" stroke-width="1.2"/>
<circle cx="491.5" cy="508.2" r="1.75" fill="#1d4691"/>
<circle cx="494" cy="508.4" r="1.75" fill="#1d4691"/>
<circle cx="492.9" cy="509" r="1.75" fill="#1d4691"/>
<circle cx="493.5" cy="508" r="1.75" fill="#1d4691"/>
<line x1="503.6" y1="509.6" x2="503.6" y2="509.79999999999995" stroke="#231f20" stroke-width="1"/>
<line x1="501.40000000000003" y1="509.6" x2="505.8" y2="509.6" stroke="#231f20" stroke-width="1"/>
<line x1="501.40000000000003" y1="509.79999999999995" x2="505.8" y2="509.79999999999995" stroke="#231f20" stroke-width="1"/>
<line x1="500.0" y1="509.7" x2="507.20000000000005" y2="509.7" stroke="#231f20" stroke-width="1.2"/>
<rect x="500.40" y="508.20" width="3.20" height="3.20" fill="#b3123b"/>
<rect x="503.40" y="508.00" width="3.20" height="3.20" fill="#b3123b"/>
<rect x="502.00" y="508.40" width="3.20" height="3.20" fill="#b3123b"/>
</svg>
</div></body></html>
